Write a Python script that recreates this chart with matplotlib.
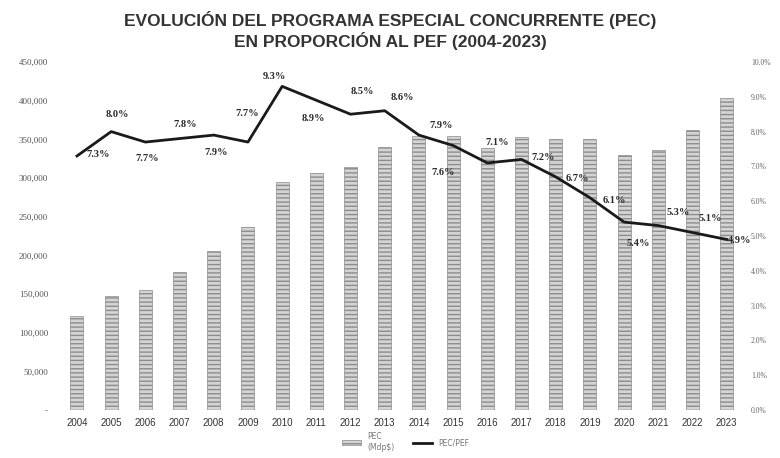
import matplotlib
matplotlib.use("Agg")
import matplotlib.pyplot as plt
from matplotlib.patches import Patch
from matplotlib.lines import Line2D
from matplotlib.ticker import FuncFormatter

years = [str(y) for y in range(2004, 2024)]
pec_mdp = [121500, 147400, 155000, 178400, 205600, 236600, 294800, 306400, 314200, 340000,
           354300, 354300, 338800, 353000, 350400, 350400, 329700, 336200, 362000, 403400]
pec_pef = [7.3, 8.0, 7.7, 7.8, 7.9, 7.7, 9.3, 8.9, 8.5, 8.6,
           7.9, 7.6, 7.1, 7.2, 6.7, 6.1, 5.4, 5.3, 5.1, 4.9]
label_offsets = [(21, 1), (6, 17), (2, -16), (6, 14), (2, -17), (-1, 29), (-8, 10), (-3, -18),
                 (12, 23), (18, 13), (22, 10), (-10, -27), (10, 20), (22, 2), (22, -2),
                 (24, -3), (14, -21), (20, 13), (18, 14), (13, -1)]

plt.rcParams['hatch.linewidth'] = 1.0
bar_face = '#d4d4d4'
bar_edge = '#8c8c8c'
fig = plt.figure(figsize=(7.8, 4.58), dpi=100)
ax = fig.add_axes([0.0724, 0.1048, 0.8724, 0.7598])
ax2 = ax.twinx()

x = list(range(len(years)))
ax.bar(x, pec_mdp, width=0.38, facecolor=bar_face, edgecolor=bar_edge,
       hatch='----', linewidth=0.5, zorder=2)
ax.set_xlim(-0.6, len(years) - 0.7)
ax.set_ylim(0, 450000)
ax.set_yticks(range(0, 450001, 50000))
ax.yaxis.set_major_formatter(FuncFormatter(lambda v, p: '-' if v == 0 else f'{int(v):,}'))
ax.set_xticks(x)
ax.set_xticklabels(years, fontsize=7, color='#333333', family='Liberation Sans')
for lab in ax.get_yticklabels():
    lab.set_fontsize(6.5)
    lab.set_color('#555555')
    lab.set_family('Liberation Serif')
ax.tick_params(axis='both', length=0, pad=6)

ax2.plot(x, pec_pef, color='#1a1a1a', linewidth=2.0, zorder=5)
ax2.set_ylim(0, 10)
ax2.set_yticks(range(0, 11))
ax2.yaxis.set_major_formatter(FuncFormatter(lambda v, p: f'{v:.1f}%'))
for lab in ax2.get_yticklabels():
    lab.set_fontsize(5.5)
    lab.set_color('#666666')
    lab.set_family('Liberation Serif')
ax2.tick_params(axis='y', length=0, pad=10)

for xi, v, (dx, dy) in zip(x, pec_pef, label_offsets):
    ax2.annotate(f'{v:.1f}%', (xi, v), xytext=(dx, dy), textcoords='offset pixels',
                 ha='center', va='center', fontsize=7.5, fontweight='bold',
                 family='Liberation Serif', color='#2a2a2a', zorder=6)

for a in (ax, ax2):
    for s in a.spines.values():
        s.set_visible(False)

fig.suptitle('EVOLUCIÓN DEL PROGRAMA ESPECIAL CONCURRENTE (PEC)\nEN PROPORCIÓN AL PEF (2004-2023)',
             x=0.5, y=0.975, fontsize=12.5, fontweight='bold', color='#333333',
             family='Liberation Sans', linespacing=1.15)

handles = [Patch(facecolor=bar_face, edgecolor=bar_edge, hatch='----', linewidth=0.5),
           Line2D([0], [0], color='#1a1a1a', linewidth=2.0)]
fig.legend(handles, ['PEC\n(Mdp$)', 'PEC/PEF'], loc='center', bbox_to_anchor=(0.52, 0.035),
           ncol=2, frameon=False, fontsize=5.5, handlelength=2.5, columnspacing=2.5,
           labelcolor='#777777')

fig.savefig('out.png', dpi=100)
